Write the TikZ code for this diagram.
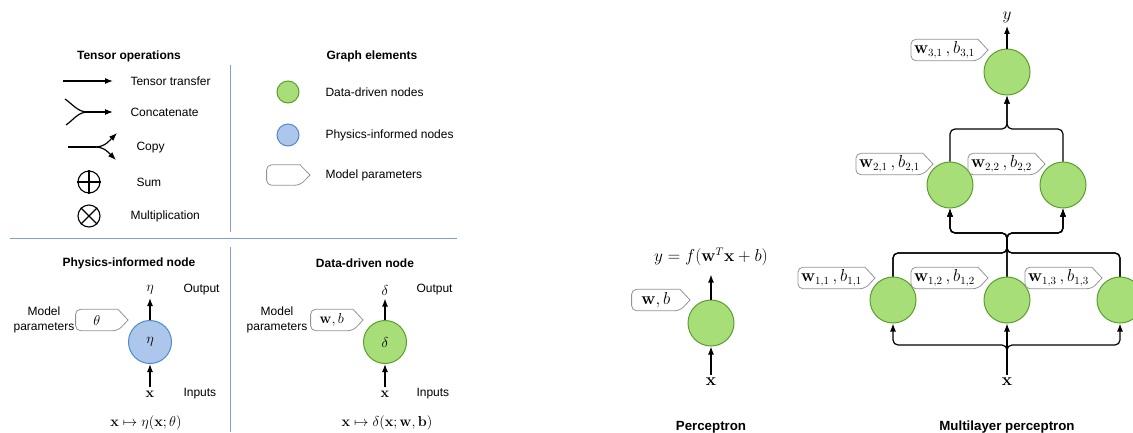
\documentclass[tikz,border=0pt]{standalone}
\usepackage[no-math]{fontspec}
\setmainfont{Liberation Sans}
\usepackage{amsmath}
\usetikzlibrary{arrows.meta,calc}

\definecolor{ddfill}{HTML}{A8DE78}
\definecolor{ddline}{HTML}{5A9E2C}
\definecolor{pifill}{HTML}{ADC6EB}
\definecolor{piline}{HTML}{4C8CCB}
\definecolor{rulecol}{HTML}{7E9FD6}

\tikzset{
  wire/.style={line width=1.2pt, rounded corners=5pt},
  flow/.style={wire, -{Latex[length=8pt,width=6pt]}},
  ddnode/.style={circle, draw=ddline, fill=ddfill, line width=1pt, minimum size=46pt, inner sep=0pt,
    font=\fontsize{14}{16}\selectfont},
  pinode/.style={circle, draw=piline, fill=pifill, line width=1pt, minimum size=43pt, inner sep=0pt,
    font=\fontsize{14}{16}\selectfont},
  tag/.style={anchor=east, inner xsep=3pt, inner ysep=0pt, minimum height=21pt, minimum width=42pt},
  tagline/.style={draw=gray!85, line width=0.8pt},
  title/.style={font=\fontsize{12}{14}\selectfont\bfseries},
  bigtitle/.style={font=\fontsize{13.3}{15}\selectfont\bfseries},
  txt/.style={font=\fontsize{12}{15}\selectfont},
  mth/.style={font=\fontsize{16}{18}\selectfont},
  mthsmall/.style={font=\fontsize{15}{17}\selectfont},
}

% outline of a parameter tag, tip pointing right
\newcommand{\paramtag}[1]{%
  \draw[tagline] ($(#1.east)+(10,0)$) -- (#1.north east) [rounded corners=5pt]
    -- (#1.north west) -- (#1.south west) -- (#1.south east) [sharp corners] -- cycle;}

\begin{document}
\begin{tikzpicture}[x=1pt, y=1pt]
  \useasboundingbox (0,0) rectangle (1133,-432);

  % panel rules
  \draw[rulecol, line width=1pt] (230,-65) -- (230,-232);
  \draw[rulecol, line width=1pt] (10,-238) -- (457,-238);
  \draw[rulecol, line width=1pt] (230,-247) -- (230,-432);

  % tensor operations
  \node[title] (optitle) at (129,-56) {Tensor operations};
  \draw[flow] (63,-81) -- (113,-81);
  \node[txt, anchor=west] (optransfer) at (127,-81) {Tensor transfer};

  \draw[wire] (65,-99) to[out=-35, in=180] (88,-112);
  \draw[wire] (66,-125) to[out=35, in=180] (88,-112);
  \draw[flow] (86,-112) -- (113,-112);
  \node[txt, anchor=west] (opconcat) at (127,-112) {Concatenate};

  \draw[wire] (68,-147) -- (96,-147);
  \draw[flow] (95,-147) to[out=0, in=-135] (117,-133);
  \draw[flow] (95,-147) to[out=0, in=135] (116,-160);
  \node[txt, anchor=west] (opcopy) at (133,-148) {Copy};

  \node[circle, draw, line width=1.1pt, minimum size=22pt, inner sep=0pt] (sum) at (89,-182) {};
  \draw[line width=1.1pt] (sum.north) -- (sum.south) (sum.west) -- (sum.east);
  \node[txt, anchor=west] (opsum) at (133,-182) {Sum};

  \node[circle, draw, line width=1.1pt, minimum size=22pt, inner sep=0pt] (mul) at (89,-216) {};
  \draw[line width=1.1pt] (mul.north west) -- (mul.south east) (mul.north east) -- (mul.south west);
  \node[txt, anchor=west] (opmul) at (127,-216) {Multiplication};

  % graph elements
  \node[title] (gtitle) at (372,-56) {Graph elements};
  \node[ddnode, minimum size=22pt] (gdd) at (288,-92) {};
  \node[txt, anchor=west] at (322,-92) {Data-driven nodes};
  \node[pinode, minimum size=22pt] (gpi) at (288,-135) {};
  \node[txt, anchor=west] at (322,-135) {Physics-informed nodes};
  \node[tag, minimum height=20pt, minimum width=33pt] (gtag) at (300,-175) {};
  \paramtag{gtag}
  \node[txt, anchor=west] at (322,-175) {Model parameters};

  % physics-informed node
  \node[title] at (129,-263) {Physics-informed node};
  \node[pinode] (pi) at (150,-342) {$\eta$};
  \node[mthsmall] (piout) at (150,-290) {$\eta$};
  \node[txt, anchor=west] at (180,-290) {Output};
  \node[mthsmall] (piin) at (150,-394) {$\mathbf{x}$};
  \node[txt, anchor=west] at (180,-394) {Inputs};
  \draw[flow] (pi.north) -- (piout.south);
  \draw[flow] (piin.north) -- (pi.south);
  \node[tag, mthsmall] (pitag) at ([shift={(-32,22)}]pi.center) {$\theta$};
  \paramtag{pitag}
  \node[txt, align=center] at (44,-320) {Model\\parameters};
  \node[mthsmall] at (146,-423) {$\mathbf{x} \mapsto \eta(\mathbf{x};\theta)$};

  % data-driven node
  \node[title] at (365,-263) {Data-driven node};
  \node[ddnode, minimum size=43pt] (dd) at (385,-342) {$\delta$};
  \node[mthsmall] (ddout) at (385,-290) {$\delta$};
  \node[txt, anchor=west] at (413,-290) {Output};
  \node[mthsmall] (ddin) at (385,-394) {$\mathbf{x}$};
  \node[txt, anchor=west] at (413,-394) {Inputs};
  \draw[flow] (dd.north) -- (ddout.south);
  \draw[flow] (ddin.north) -- (dd.south);
  \node[tag, mthsmall] (ddtag) at ([shift={(-32,22)}]dd.center) {$\mathbf{w}, b$};
  \paramtag{ddtag}
  \node[txt, align=center] at (277,-320) {Model\\parameters};
  \node[mthsmall] at (387,-423) {$\mathbf{x} \mapsto \delta(\mathbf{x};\mathbf{w},\mathbf{b})$};

  % perceptron
  \node[ddnode] (per) at (711,-323) {};
  \node[mth] (perout) at (711,-257) {$y = f(\mathbf{w}^T\mathbf{x} + b)$};
  \node[mth] (perin) at (711,-382) {$\mathbf{x}$};
  \draw[flow] (per.north) -- ([yshift=-5pt]perout.south);
  \draw[flow] (perin.north) -- (per.south);
  \node[tag, mth, minimum width=48pt] (pertag) at ([shift={(-31,23)}]per.center) {$\mathbf{w}, b$};
  \paramtag{pertag}
  \node[bigtitle] at (711,-427) {Perceptron};

  % multilayer perceptron
  \node[ddnode] (m31) at (1007,-72) {};
  \node[ddnode] (m21) at (950,-185) {};
  \node[ddnode] (m22) at (1063,-185) {};
  \node[ddnode] (m11) at (893,-300) {};
  \node[ddnode] (m12) at (1007,-300) {};
  \node[ddnode] (m13) at (1120,-300) {};
  \node[mth] (yout) at (1007,-17) {$y$};
  \node[mth] (xin) at (1007,-382) {$\mathbf{x}$};

  \coordinate (j0) at (1007,-345);
  \coordinate (j1a) at (1007,-253);
  \coordinate (j1b) at (1007,-233);
  \coordinate (j2) at (1007,-129);

  \draw[flow] (m31.north) -- (yout.south);
  \draw[flow] (m21.north) |- (j2) -- (m31.south);
  \draw[flow] (m22.north) |- (j2) -- (m31.south);
  \foreach \a in {m11,m13} {
    \foreach \b in {m21,m22} {
      \draw[flow] (\a.north) |- (j1a) -- (j1b) -| (\b.south);
    }
  }
  \draw[flow] (m12.north) -- (j1b) -| (m21.south);
  \draw[flow] (m12.north) -- (j1b) -| (m22.south);
  \draw[flow] (xin.north) -- (j0) -| (m11.south);
  \draw[flow] (xin.north) -- (j0) -| (m13.south);
  \draw[flow] (xin.north) -- (m12.south);

  \node[tag, mth] (t31) at ([shift={(-29,22)}]m31.center) {$\mathbf{w}_{3,1}\,,b_{3,1}$};
  \node[tag, mth] (t21) at ([shift={(-27,21)}]m21.center) {$\mathbf{w}_{2,1}\,,b_{2,1}$};
  \node[tag, mth] (t22) at ([shift={(-28,21)}]m22.center) {$\mathbf{w}_{2,2}\,,b_{2,2}$};
  \node[tag, mth] (t11) at ([shift={(-28,22)}]m11.center) {$\mathbf{w}_{1,1}\,,b_{1,1}$};
  \node[tag, mth] (t12) at ([shift={(-29,22)}]m12.center) {$\mathbf{w}_{1,2}\,,b_{1,2}$};
  \node[tag, mth] (t13) at ([shift={(-28,22)}]m13.center) {$\mathbf{w}_{1,3}\,,b_{1,3}$};
  \foreach \tg in {t31,t21,t22,t11,t12,t13} {
    \paramtag{\tg}
  }

  \node[bigtitle] at (1007,-427) {Multilayer perceptron};
\end{tikzpicture}
\end{document}
